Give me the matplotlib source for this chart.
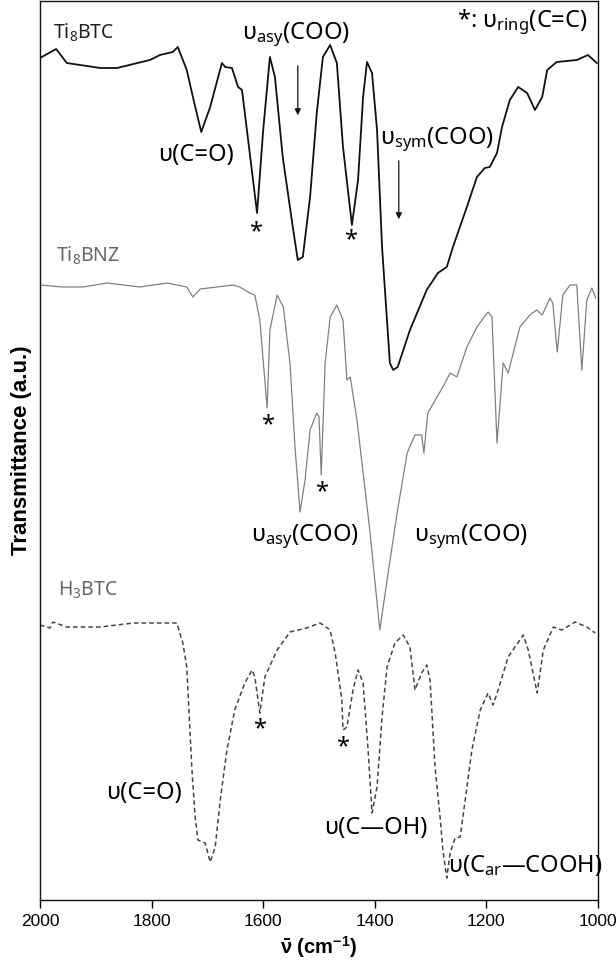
import matplotlib
matplotlib.use("Agg")
import matplotlib.pyplot as plt

plt.rcParams['font.family'] = ['Noto Sans', 'DejaVu Sans']
plt.rcParams['mathtext.fontset'] = 'custom'
plt.rcParams['mathtext.rm'] = 'Noto Sans'
plt.rcParams['mathtext.it'] = 'Noto Sans:italic'
plt.rcParams['mathtext.bf'] = 'Liberation Sans:bold'

# ---- data (wavenumber cm-1, transmittance a.u.) ----
ti8btc_wn = [2000, 1971, 1952, 1892, 1862, 1803, 1785, 1762, 1753, 1737, 1726, 1711, 1695, 1674,
             1668, 1656, 1645, 1638, 1627, 1611, 1600, 1588, 1579, 1565, 1547, 1538, 1529, 1516,
             1504, 1493, 1480, 1468, 1457, 1441, 1430, 1421, 1414, 1405, 1396, 1387, 1373, 1367,
             1359, 1337, 1307, 1287, 1271, 1260, 1235, 1217, 1203, 1194, 1181, 1172, 1158, 1143,
             1127, 1113, 1100, 1091, 1074, 1038, 1018, 1002]
ti8btc_t = [842, 851, 837, 832, 832, 840, 845, 848, 853, 830, 803, 768, 793, 837,
            833, 832, 813, 810, 760, 687, 770, 843, 823, 743, 673, 640, 643, 703,
            787, 843, 855, 837, 753, 675, 720, 803, 838, 827, 770, 653, 537, 530,
            533, 570, 610, 627, 633, 653, 693, 723, 732, 733, 747, 773, 800, 813,
            807, 790, 803, 830, 838, 840, 845, 837]

ti8bnz_wn = [2000, 1960, 1923, 1880, 1821, 1772, 1737, 1726, 1713, 1683, 1654, 1642, 1624, 1615,
             1606, 1593, 1588, 1575, 1564, 1552, 1543, 1534, 1525, 1516, 1504, 1500, 1496, 1489,
             1480, 1468, 1457, 1450, 1444, 1432, 1409, 1391, 1378, 1360, 1342, 1328, 1316, 1312,
             1305, 1278, 1265, 1253, 1235, 1217, 1197, 1190, 1181, 1170, 1161, 1140, 1122, 1110,
             1100, 1086, 1081, 1073, 1063, 1050, 1038, 1029, 1020, 1011, 1004]
ti8bnz_t = [615, 613, 613, 617, 613, 617, 613, 603, 611, 613, 615, 613, 607, 605,
            580, 492, 570, 605, 593, 537, 453, 388, 420, 470, 487, 483, 425, 537,
            583, 595, 580, 520, 523, 480, 370, 270, 320, 387, 447, 465, 465, 447,
            487, 513, 527, 523, 553, 573, 588, 583, 457, 537, 527, 573, 585, 590,
            585, 602, 597, 548, 605, 615, 615, 530, 600, 612, 602]

h3btc_wn = [2000, 1982, 1977, 1952, 1892, 1833, 1785, 1755, 1744, 1737, 1728, 1722, 1717, 1704,
            1695, 1686, 1677, 1665, 1651, 1633, 1620, 1615, 1606, 1597, 1575, 1552, 1522, 1498,
            1480, 1471, 1459, 1457, 1450, 1439, 1430, 1421, 1412, 1405, 1396, 1387, 1378, 1364,
            1349, 1337, 1328, 1316, 1307, 1301, 1292, 1283, 1278, 1271, 1265, 1256, 1247, 1238,
            1226, 1211, 1197, 1188, 1179, 1161, 1134, 1125, 1109, 1098, 1080, 1065, 1041, 1020,
            1005]
h3btc_t = [275, 272, 278, 273, 273, 277, 277, 277, 257, 233, 133, 83, 60, 57,
           38, 53, 100, 150, 190, 217, 230, 223, 187, 223, 250, 268, 272, 277,
           270, 247, 200, 170, 173, 210, 230, 217, 150, 87, 113, 183, 233, 257,
           265, 253, 210, 227, 235, 220, 133, 83, 50, 22, 47, 62, 63, 100,
           150, 190, 207, 195, 210, 243, 265, 250, 207, 250, 273, 270, 278, 273,
           267]

x_ticks = [2000, 1800, 1600, 1400, 1200, 1000]

# ---- figure ----
fig = plt.figure(figsize=(6.16, 9.68), dpi=100)
ax = fig.add_axes([40/616, 1 - 900/968, 558/616, 899/968])

ax.plot(ti8btc_wn, ti8btc_t, color='#111111', lw=1.3, solid_joinstyle='round')
ax.plot(ti8bnz_wn, ti8bnz_t, color='#808080', lw=0.9, solid_joinstyle='round')
ax.plot(h3btc_wn, h3btc_t, color='#444444', lw=1.1, ls=(0, (3, 2)))

ax.set_xlim(2000, 1000)
ax.set_ylim(0, 899)
ax.set_xticks(x_ticks)
ax.set_xticklabels([str(t) for t in x_ticks], fontsize=12.5, family='Liberation Sans')
ax.set_yticks([])
ax.tick_params(axis='x', direction='out', length=6, width=1, pad=4)
for s in ax.spines.values():
    s.set_linewidth(1.0)
    s.set_color('#111111')

ax.set_xlabel(r"$\mathbf{\bar{\nu}}$ (cm$^{\mathbf{-1}}$)", fontsize=14.5, fontweight='bold',
              family='Liberation Sans', labelpad=4)
ax.set_ylabel("Transmittance (a.u.)", fontsize=16, fontweight='bold',
              family='Liberation Sans', labelpad=6)

fs = 17
# sample labels
ax.text(1977, 867, r"Ti$_8$BTC", fontsize=14, color='#222222', ha='left', va='center')
ax.text(1971, 644, r"Ti$_8$BNZ", fontsize=14, color='#666666', ha='left', va='center')
ax.text(1968, 310, r"H$_3$BTC", fontsize=14, color='#666666', ha='left', va='center')

# annotations
ax.text(1018, 878, r"*: υ$_{\mathrm{ring}}$(C=C)", fontsize=fs, ha='right', va='center')
ax.text(1541, 865, r"υ$_{\mathrm{asy}}$(COO)", fontsize=fs, ha='center', va='center')
ax.text(1720, 745, "υ(C=O)", fontsize=fs, ha='center', va='center')
ax.text(1289, 760, r"υ$_{\mathrm{sym}}$(COO)", fontsize=fs, ha='center', va='center')
ax.text(1525, 363, r"υ$_{\mathrm{asy}}$(COO)", fontsize=fs, ha='center', va='center')
ax.text(1228, 363, r"υ$_{\mathrm{sym}}$(COO)", fontsize=fs, ha='center', va='center')
ax.text(1814, 107, "υ(C=O)", fontsize=fs, ha='center', va='center')
ax.text(1398, 72, "υ(C—OH)", fontsize=fs, ha='center', va='center')
ax.text(1131, 35, r"υ(C$_{\mathrm{ar}}$—COOH)", fontsize=fs, ha='center', va='center')

# asterisks
for wn, yy in [(1613, 668), (1443, 660), (1593, 475), (1495, 408), (1606, 171), (1457, 153)]:
    ax.text(wn, yy, "*", fontsize=fs, ha='center', va='center')

# arrows
for wn, y0, y1 in [(1538, 837, 782), (1357, 742, 678)]:
    ax.annotate('', xy=(wn, y1), xytext=(wn, y0),
                arrowprops=dict(arrowstyle='-|>', color='#111111', lw=0.9, mutation_scale=9))

fig.savefig("out.png", dpi=100)
